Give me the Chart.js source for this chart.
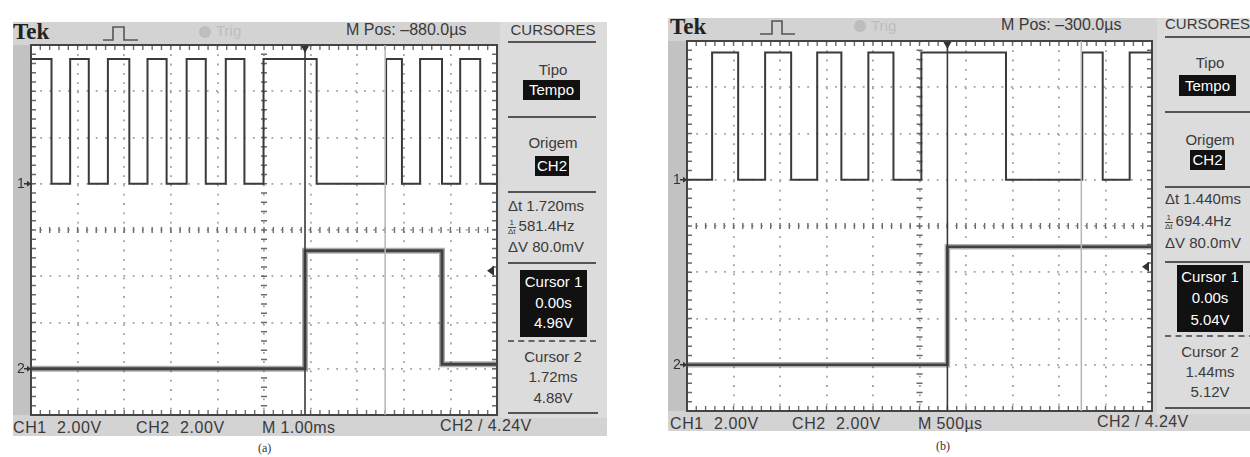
<!DOCTYPE html>
<html><head><meta charset="utf-8">
<script src="https://cdn.jsdelivr.net/npm/chart.js@4.4.0/dist/chart.umd.min.js"></script>
<style>
html,body{margin:0;padding:0;background:#fff;}
body{width:1250px;height:457px;position:relative;overflow:hidden;font-family:"Liberation Sans",Arial,sans-serif;color:#3a3a3a;}
.box{position:absolute;}
.t{position:absolute;white-space:nowrap;line-height:18px;height:18px;font-size:15px;}
.c{text-align:center;}
.inv{position:absolute;background:#111;color:#fff;text-align:center;font-size:15px;}
.sep{position:absolute;height:2px;background:#555;}
.dsep{position:absolute;height:0;border-top:2px dashed #666;}
.tek{position:absolute;font-family:"Liberation Serif","DejaVu Serif",serif;font-weight:bold;font-size:23px;color:#222;line-height:24px;}
.fr{display:inline-block;font-size:8px;line-height:8px;vertical-align:middle;text-align:center;margin-right:3px;}
.fr span{display:block;}
.fr span+span{border-top:1px solid #444;}
.cap{position:absolute;font-family:"Liberation Serif","DejaVu Serif",serif;font-size:12px;color:#333;}
canvas{position:absolute;}
</style>
</head><body>

<!-- ===== panel (a) ===== -->
<div class="box" style="left:13px;top:22px;width:594px;height:414px;background:#d3d3d3;"></div>
<div class="box" style="left:13px;top:45px;width:18px;height:370px;background:#c2c2c2;"></div>
<div class="box" style="left:500px;top:22px;width:107px;height:396px;background:#dcdcdc;"></div>
<div class="tek" style="left:13px;top:20px;">Tek</div>
<svg class="box" style="left:100px;top:24px;" width="42" height="20"><polyline points="3,16 13,16 13,3 24,3 24,16 38,16" fill="none" stroke="#555" stroke-width="1.6"/></svg>
<div class="box" style="left:199px;top:26px;width:12px;height:12px;border-radius:6px;background:#bdbdbd;"></div>
<div class="t" style="left:216px;top:22px;color:#bdbdbd;">Trig</div>
<div class="t" style="left:346px;top:21px;font-size:16px;">M Pos: –880.0µs</div>

<div class="t" style="left:13px;top:419px;font-size:16px;letter-spacing:0.6px;">CH1&nbsp; 2.00V</div>
<div class="t" style="left:136px;top:419px;font-size:16px;letter-spacing:0.6px;">CH2&nbsp; 2.00V</div>
<div class="t" style="left:262px;top:419px;font-size:16px;letter-spacing:0.4px;">M 1.00ms</div>
<div class="t" style="left:440px;top:417px;font-size:16px;letter-spacing:0.4px;">CH2 / 4.24V</div>
<div class="cap" style="left:258px;top:441px;">(a)</div>

<div class="t c" style="left:500px;width:106px;top:21px;">CURSORES</div>
<div class="sep" style="left:508px;width:88px;top:41px;"></div>
<div class="t c" style="left:500px;width:106px;top:61px;">Tipo</div>
<div class="inv" style="left:523px;top:80px;width:57px;height:20px;line-height:20px;">Tempo</div>
<div class="sep" style="left:508px;width:88px;top:116px;"></div>
<div class="t c" style="left:500px;width:106px;top:134px;">Origem</div>
<div class="inv" style="left:535px;top:156px;width:34px;height:20px;line-height:20px;">CH2</div>
<div class="sep" style="left:508px;width:88px;top:191px;"></div>
<div class="t" style="left:508px;top:197px;">Δt 1.720ms</div>
<div class="t" style="left:508px;top:217px;"><span class="fr"><span>1</span><span>Δt</span></span>581.4Hz</div>
<div class="t" style="left:508px;top:238px;">ΔV 80.0mV</div>
<div class="sep" style="left:508px;width:88px;top:262px;"></div>
<div class="inv" style="left:520px;top:270px;width:67px;height:67px;"></div>
<div class="t c" style="left:520px;width:67px;top:273px;color:#fff;">Cursor 1</div>
<div class="t c" style="left:520px;width:67px;top:294px;color:#fff;">0.00s</div>
<div class="t c" style="left:520px;width:67px;top:314px;color:#fff;">4.96V</div>
<div class="dsep" style="left:508px;width:88px;top:340px;"></div>
<div class="t c" style="left:500px;width:106px;top:348px;">Cursor 2</div>
<div class="t c" style="left:500px;width:106px;top:368px;">1.72ms</div>
<div class="t c" style="left:500px;width:106px;top:389px;">4.88V</div>
<div class="sep" style="left:508px;width:90px;top:412px;"></div>

<canvas id="ca" width="490" height="400" style="left:13px;top:22px;"></canvas>

<!-- ===== panel (b) ===== -->
<div class="box" style="left:668px;top:18px;width:600px;height:413px;background:#d3d3d3;"></div>
<div class="box" style="left:668px;top:41px;width:19px;height:370px;background:#c2c2c2;"></div>
<div class="box" style="left:1157px;top:18px;width:100px;height:396px;background:#dcdcdc;"></div>
<div class="tek" style="left:670px;top:15px;">Tek</div>
<svg class="box" style="left:757px;top:18px;" width="42" height="20"><polyline points="3,16 15,16 15,3 25,3 25,16 38,16" fill="none" stroke="#555" stroke-width="1.6"/></svg>
<div class="box" style="left:854px;top:20px;width:12px;height:12px;border-radius:6px;background:#bdbdbd;"></div>
<div class="t" style="left:871px;top:17px;color:#bdbdbd;">Trig</div>
<div class="t" style="left:1001px;top:16px;font-size:16px;">M Pos: –300.0µs</div>

<div class="t" style="left:670px;top:415px;font-size:16px;letter-spacing:0.6px;">CH1&nbsp; 2.00V</div>
<div class="t" style="left:792px;top:415px;font-size:16px;letter-spacing:0.6px;">CH2&nbsp; 2.00V</div>
<div class="t" style="left:918px;top:415px;font-size:16px;letter-spacing:0.4px;">M 500µs</div>
<div class="t" style="left:1097px;top:413px;font-size:16px;letter-spacing:0.4px;">CH2 / 4.24V</div>
<div class="cap" style="left:936px;top:439px;">(b)</div>

<div class="t" style="left:1165px;top:15px;">CURSORES</div>
<div class="sep" style="left:1165px;width:90px;top:36px;"></div>
<div class="t c" style="left:1157px;width:106px;top:54px;">Tipo</div>
<div class="inv" style="left:1179px;top:75px;width:57px;height:21px;line-height:21px;">Tempo</div>
<div class="sep" style="left:1165px;width:90px;top:111px;"></div>
<div class="t c" style="left:1157px;width:106px;top:131px;">Origem</div>
<div class="inv" style="left:1190px;top:150px;width:35px;height:20px;line-height:20px;">CH2</div>
<div class="sep" style="left:1165px;width:90px;top:186px;"></div>
<div class="t" style="left:1165px;top:190px;">Δt 1.440ms</div>
<div class="t" style="left:1165px;top:212px;"><span class="fr"><span>1</span><span>Δt</span></span>694.4Hz</div>
<div class="t" style="left:1165px;top:234px;">ΔV 80.0mV</div>
<div class="sep" style="left:1165px;width:90px;top:261px;"></div>
<div class="inv" style="left:1177px;top:265px;width:66px;height:67px;"></div>
<div class="t c" style="left:1177px;width:66px;top:268px;color:#fff;">Cursor 1</div>
<div class="t c" style="left:1177px;width:66px;top:289px;color:#fff;">0.00s</div>
<div class="t c" style="left:1177px;width:66px;top:311px;color:#fff;">5.04V</div>
<div class="dsep" style="left:1165px;width:90px;top:335px;"></div>
<div class="t c" style="left:1157px;width:106px;top:343px;">Cursor 2</div>
<div class="t c" style="left:1157px;width:106px;top:363px;">1.44ms</div>
<div class="t c" style="left:1157px;width:106px;top:383px;">5.12V</div>
<div class="sep" style="left:1165px;width:90px;top:407px;"></div>

<canvas id="cb" width="490" height="400" style="left:668px;top:18px;"></canvas>

<script>
// ---------------- DATA ----------------
// Screen vertical scale: 2 V/div, 8 divisions -> -8..8 "screen volts"
const yDivs = [-8, -6, -4, -2, 0, 2, 4, 6, 8];
const ch1Offset = 2;      // CH1 ground marker (1 div above centre)
const ch2Offset = -6;     // CH2 ground marker (3 div below centre)
const trigLevel = 4.24;   // CH2 trigger level, V

// (a) 1.00 ms/div, M Pos -880 us, time in ms relative to trigger
const aTimeRange = [-5.88, 4.12];
const aMsPerDiv = 1.0;
const aCh1Edges  = [-5.88, -5.44, -5.04, -4.64, -4.23, -3.77, -3.38, -2.97, -2.54, -2.13, -1.70, -1.30, -0.89, 0.25, 1.74, 2.08, 2.47, 2.94, 3.33, 3.76, 4.12];
const aCh1Levels = [5.4, 0, 5.4, 0, 5.4, 0, 5.4, 0, 5.4, 0, 5.4, 0, 5.4, 0, 5.4, 0, 5.4, 0, 5.4, 0];
const aCh2Edges  = [-5.88, 0, 2.94, 4.12];
const aCh2Levels = [0.0, 5.1, 0.2];
const aCursors   = [0, 1.72];

// (b) 500 us/div, M Pos -300 us
const bTimeRange = [-2.80, 2.20];
const bMsPerDiv = 0.5;
const bCh1Edges  = [-2.80, -2.53, -2.25, -1.96, -1.68, -1.40, -1.14, -0.85, -0.58, -0.28, 0.63, 1.45, 1.67, 1.96, 2.20];
const bCh1Levels = [0, 5.5, 0, 5.5, 0, 5.5, 0, 5.5, 0, 5.5, 0, 5.5, 0, 5.5];
const bCh2Edges  = [-2.80, 0, 2.20];
const bCh2Levels = [0.0, 5.1];
const bCursors   = [0, 1.44];

// ---------------- helpers ----------------
function stepPoints(edges, levels, offset) {
  const pts = [];
  for (let i = 0; i < levels.length; i++) {
    pts.push({x: edges[i], y: offset + levels[i]});
    pts.push({x: edges[i + 1], y: offset + levels[i]});
  }
  return pts;
}
function cursorPoints(t) { return [{x: t, y: -8}, {x: t, y: 8}]; }

const scopePlugin = {
  id: 'scope',
  beforeDraw(chart) {
    const {ctx, chartArea: a} = chart;
    ctx.save();
    ctx.fillStyle = '#ffffff';
    ctx.fillRect(a.left, a.top, a.right - a.left, a.bottom - a.top);
    ctx.restore();
  },
  beforeDatasetsDraw(chart) {
    const {ctx, chartArea: a, scales: {x, y}} = chart;
    const o = chart.options.plugins.scope;
    const xMin = x.min, yMin = y.min;
    ctx.save();
    ctx.strokeStyle = '#6a6a6a';
    ctx.lineWidth = 1.4;
    // minor ticks every 1/5 division on frame and centre lines
    const cx = x.getPixelForValue(xMin + 5 * o.perDiv);
    const cy = y.getPixelForValue(0);
    ctx.beginPath();
    for (let k = 1; k < 50; k++) {
      const px = x.getPixelForValue(xMin + k * o.perDiv / 5);
      ctx.moveTo(px, a.top); ctx.lineTo(px, a.top + 5);
      ctx.moveTo(px, a.bottom); ctx.lineTo(px, a.bottom - 5);
      ctx.moveTo(px, cy - 3); ctx.lineTo(px, cy + 3);
    }
    for (let k = 1; k < 40; k++) {
      const py = y.getPixelForValue(yMin + k * 0.4);
      ctx.moveTo(a.left, py); ctx.lineTo(a.left + 5, py);
      ctx.moveTo(a.right, py); ctx.lineTo(a.right - 5, py);
      ctx.moveTo(cx - 3, py); ctx.lineTo(cx + 3, py);
    }
    ctx.stroke();
    // frame
    ctx.strokeStyle = '#444';
    ctx.lineWidth = 2;
    ctx.strokeRect(a.left, a.top, a.right - a.left, a.bottom - a.top);
    ctx.restore();
  },
  afterDatasetsDraw(chart) {
    const {ctx, chartArea: a, scales: {x, y}} = chart;
    ctx.save();
    ctx.fillStyle = '#333';
    ctx.strokeStyle = '#333';
    ctx.font = '14px "Liberation Sans", Arial, sans-serif';
    ctx.textBaseline = 'middle';
    // ground markers
    [[ '1', ch1Offset ], [ '2', ch2Offset ]].forEach(([lab, v]) => {
      const py = y.getPixelForValue(v);
      ctx.fillText(lab, a.left - 14, py);
      ctx.lineWidth = 1.5;
      ctx.beginPath(); ctx.moveTo(a.left - 7, py); ctx.lineTo(a.left, py); ctx.stroke();
      ctx.beginPath(); ctx.moveTo(a.left, py); ctx.lineTo(a.left - 4, py - 3); ctx.lineTo(a.left - 4, py + 3); ctx.closePath(); ctx.fill();
    });
    // trigger position marker (top)
    const tx = x.getPixelForValue(0);
    ctx.beginPath(); ctx.moveTo(tx - 4, a.top + 1); ctx.lineTo(tx + 4, a.top + 1); ctx.lineTo(tx, a.top + 8); ctx.closePath(); ctx.fill();
    // trigger level marker (right)
    const ty = y.getPixelForValue(ch2Offset + trigLevel);
    ctx.beginPath(); ctx.moveTo(a.right - 10, ty); ctx.lineTo(a.right - 3, ty - 5); ctx.lineTo(a.right - 3, ty + 5); ctx.closePath(); ctx.fill();
    ctx.restore();
  }
};

function makeScope(id, range, perDiv, c1e, c1l, c2e, c2l, cursors, pad, ch2Width) {
  const xDivs = [];
  for (let k = 0; k <= 10; k++) xDivs.push(range[0] + k * perDiv);
  return new Chart(document.getElementById(id), {
    type: 'line',
    data: {
      datasets: [
        {data: cursorPoints(cursors[1]), borderColor: '#b5b5b5', borderWidth: 1.5},
        {data: cursorPoints(cursors[0]), borderColor: '#3a3a3a', borderWidth: 1.6},
        {data: stepPoints(c2e, c2l, ch2Offset), borderColor: 'rgba(70,70,70,0.45)', borderWidth: ch2Width + 3},
        {data: stepPoints(c2e, c2l, ch2Offset), borderColor: '#3c3c3c', borderWidth: ch2Width},
        {data: stepPoints(c1e, c1l, ch1Offset), borderColor: '#3a3a3a', borderWidth: 2}
      ]
    },
    options: {
      responsive: false, animation: false, events: [],
      layout: {padding: pad},
      elements: {point: {radius: 0}, line: {tension: 0, borderJoinStyle: 'miter'}},
      plugins: {legend: {display: false}, tooltip: {enabled: false}, scope: {perDiv}},
      scales: {
        x: {type: 'linear', min: range[0], max: range[1],
            ticks: {display: false}, grid: {color: '#a0a0a0', lineWidth: 1.8, drawTicks: false},
            border: {display: false, dash: [1.8, 7.5]},
            afterBuildTicks: s => { s.ticks = xDivs.map(v => ({value: v})); }},
        y: {type: 'linear', min: -8, max: 8,
            ticks: {display: false}, grid: {color: '#a0a0a0', lineWidth: 1.8, drawTicks: false},
            border: {display: false, dash: [1.8, 7.45]},
            afterBuildTicks: s => { s.ticks = yDivs.map(v => ({value: v})); }}
      }
    },
    plugins: [scopePlugin]
  });
}

makeScope('ca', aTimeRange, aMsPerDiv, aCh1Edges, aCh1Levels, aCh2Edges, aCh2Levels, aCursors,
          {left: 18, top: 23, right: 6, bottom: 7}, 3);
makeScope('cb', bTimeRange, bMsPerDiv, bCh1Edges, bCh1Levels, bCh2Edges, bCh2Levels, bCursors,
          {left: 19, top: 23, right: 6, bottom: 7}, 2.5);
</script>
</body></html>
